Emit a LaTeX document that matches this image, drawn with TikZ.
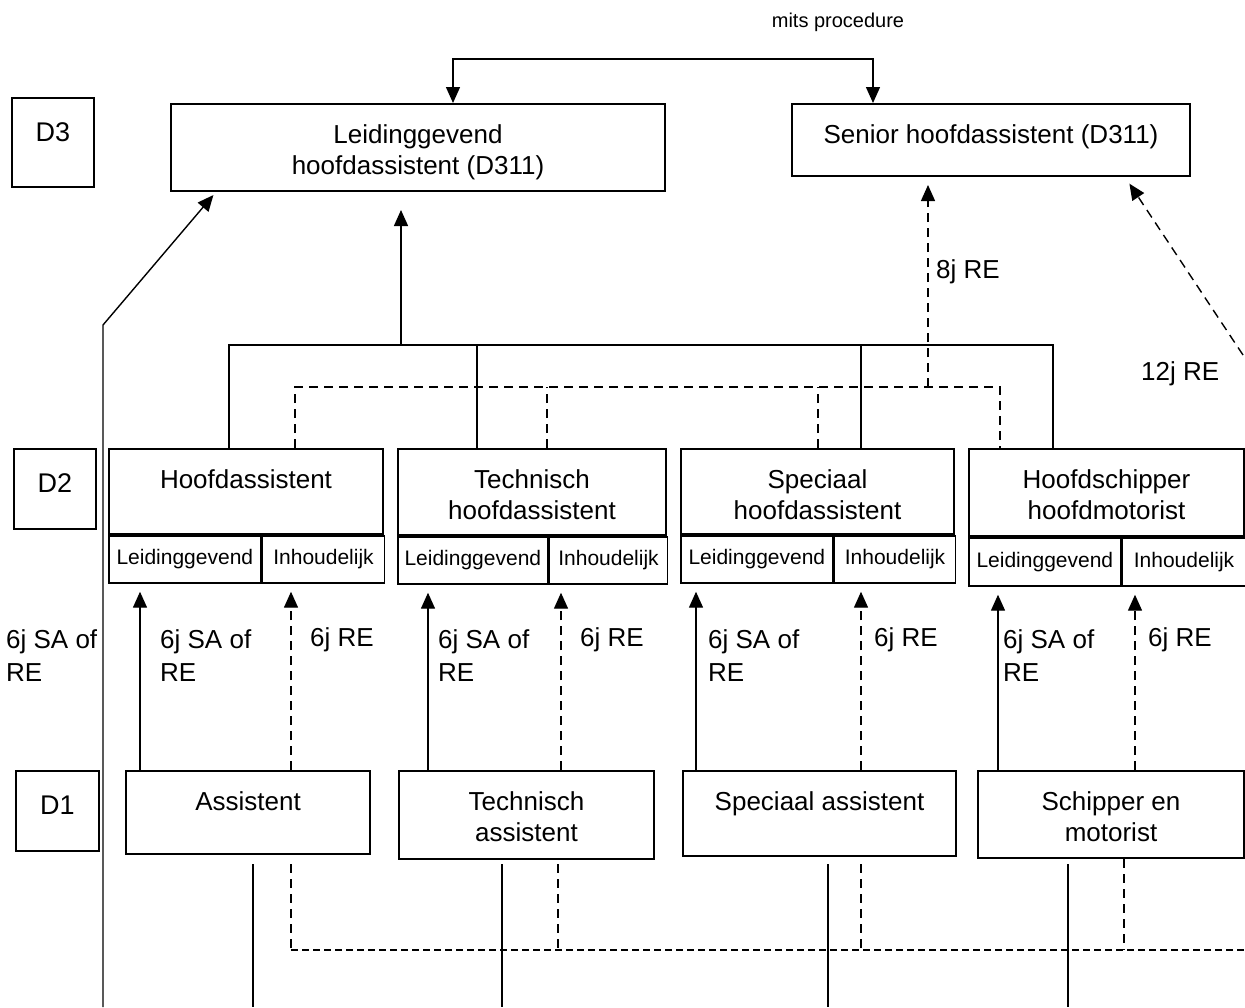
\documentclass[tikz,border=0pt]{standalone}
\usepackage{fontspec}
\setmainfont{Liberation Sans}
\usetikzlibrary{arrows.meta,calc}

% rank box: name, left, top, width, height, text (first baseline 39pt below the top)
\newcommand\rankbox[6]{%
  \node[frame] (#1) at (#2,#3) {\parbox[c][#5pt][t]{#4pt}{\centering\rule{0pt}{39pt}#6}};}
% level box: name, left, top, width, height, label
\newcommand\levelbox[6]{%
  \node[lvl] (#1) at (#2,#3) {\parbox[c][#5pt][t]{#4pt}{\centering\rule{0pt}{43pt}#6}};}

\begin{document}
\begin{tikzpicture}[x=1pt,y=-1pt,
  every node/.style={inner sep=0pt},
  frame/.style={draw, line width=2pt, anchor=north west, font=\fontsize{26}{31}\selectfont},
  cell/.style={draw, line width=1.7pt, anchor=north west, font=\fontsize{21}{25}\selectfont},
  lvl/.style={draw, line width=2pt, anchor=north west, font=\fontsize{27}{32}\selectfont},
  note/.style={font=\fontsize{26}{33}\selectfont, align=left, anchor=west},
  wire/.style={line width=1.4pt},
  dashwire/.style={wire, dash pattern=on 9pt off 6pt},
  dashfine/.style={wire, dash pattern=on 7pt off 4pt},
  tip/.style={-{Triangle[length=16pt,width=14pt]}},
  tips/.style={{Triangle[length=16pt,width=14pt]}-{Triangle[length=16pt,width=14pt]}},
]
\fill[white] (0,0) rectangle (1245,1007);
\useasboundingbox (0,0) rectangle (1245,1007);

% level labels
\levelbox{d3}{11}{97}{82}{89}{D3}
\levelbox{d2}{13}{448}{82}{80}{D2}
\levelbox{d1}{15}{770}{83}{80}{D1}

% D3
\rankbox{lhd}{170}{103}{494}{87}{Leidinggevend\\hoofdassistent (D311)}
\rankbox{shd}{791}{103}{398}{72}{Senior hoofdassistent (D311)}

% D2
\rankbox{ha}{108}{448}{274}{85}{Hoofdassistent}
\rankbox{tha}{397}{448}{268}{86}{Technisch\\hoofdassistent}
\rankbox{sha}{680}{448}{273}{85}{Speciaal\\hoofdassistent}
\rankbox{hsm}{968}{448}{275}{87}{Hoofdschipper\\hoofdmotorist}

\node[cell, minimum width=152pt, minimum height=47pt] (haL) at (ha.south west) {Leidinggevend};
\node[cell, minimum width=122pt, minimum height=47pt] (haI) at (haL.north east) {Inhoudelijk};
\node[cell, minimum width=150pt, minimum height=47pt] (thaL) at (tha.south west) {Leidinggevend};
\node[cell, minimum width=118pt, minimum height=47pt] (thaI) at (thaL.north east) {Inhoudelijk};
\node[cell, minimum width=152pt, minimum height=47pt] (shaL) at (sha.south west) {Leidinggevend};
\node[cell, minimum width=121pt, minimum height=47pt] (shaI) at (shaL.north east) {Inhoudelijk};
\node[cell, minimum width=152pt, minimum height=48pt] (hsmL) at (hsm.south west) {Leidinggevend};
\node[cell, minimum width=123pt, minimum height=48pt] (hsmI) at (hsmL.north east) {Inhoudelijk};

% D1
\rankbox{as}{125}{770}{244}{83}{Assistent}
\rankbox{tas}{398}{770}{255}{88}{Technisch\\assistent}
\rankbox{sas}{682}{770}{273}{85}{Speciaal assistent}
\rankbox{sm}{977}{770}{266}{87}{Schipper en\\motorist}

% helper coordinates (x positions of the vertical connectors)
\foreach \n/\x/\y in {mL/453/59, mR/873/59,
    s1/229/345, s2/401/345, s3/477/345, s4/861/345, s5/1053/345,
    q1/295/387, q2/547/387, q3/818/387, q4/928/387, q5/1000/387,
    a1/140/0, a2/291/0, a3/428/0, a4/561/0, a5/696/0, a6/861/0, a7/998/0, a8/1135/0,
    b1/253/1007, b2/502/1007, b3/828/1007, b4/1068/1007,
    e1/291/950, e2/558/950, e3/861/950, e4/1124/950, eR/1245/950,
    lfoot/103/1007, lbend/103/325, r12/1243/355}
  \coordinate (\n) at (\x,\y);

% D3 exchange
\node[font=\fontsize{20}{24}\selectfont] (mits) at (838,22) {mits procedure};
\draw[wire, tips] (lhd.north -| mL) -- (mL) -- (mR) -- (shd.north -| mR);

% long route from below into Leidinggevend hoofdassistent
\draw[wire, tip, shorten >=4pt] (lfoot) -- (lbend) -- ($(lhd.south west)+(46,0)$);

% D2 -> Leidinggevend hoofdassistent
\draw[wire] (ha.north -| s1) -- (s1) -- (s5) -- (hsm.north -| s5);
\draw[wire] (tha.north -| s3) -- (s3);
\draw[wire] (sha.north -| s4) -- (s4);
\draw[wire, tip, shorten >=18pt] (s2) -- (lhd.south -| s2);

% D2 -> Senior hoofdassistent
\draw[dashwire] (ha.north -| q1) -- (q1) -- (q5) -- (hsm.north -| q5);
\draw[dashwire] (tha.north -| q2) -- (q2);
\draw[dashwire] (sha.north -| q3) -- (q3);
\draw[dashwire, tip, shorten >=8pt] (q4) -- (shd.south -| q4);
\node[note] (l8) at (936,272) {8j RE};

\draw[dashwire, tip, shorten >=8pt] (r12) -- ($(shd.south west)+(334,0)$);
\node[note] (l12) at (1141,374) {12j RE};

% D1 -> D2
\draw[wire, tip, shorten >=8pt] (as.north -| a1) -- (haL.south -| a1);
\draw[dashwire, tip, shorten >=8pt] (as.north -| a2) -- (haI.south -| a2);
\draw[wire, tip, shorten >=8pt] (tas.north -| a3) -- (thaL.south -| a3);
\draw[dashwire, tip, shorten >=8pt] (tas.north -| a4) -- (thaI.south -| a4);
\draw[wire, tip, shorten >=8pt] (sas.north -| a5) -- (shaL.south -| a5);
\draw[dashwire, tip, shorten >=8pt] (sas.north -| a6) -- (shaI.south -| a6);
\draw[wire, tip, shorten >=8pt] (sm.north -| a7) -- (hsmL.south -| a7);
\draw[dashwire, tip, shorten >=8pt] (sm.north -| a8) -- (hsmI.south -| a8);

\node[note] (n0) at (6,656) {6j SA of\\RE};
\node[note] (n1) at (160,656) {6j SA of\\RE};
\node[note] (n2) at (310,640) {6j RE};
\node[note] (n3) at (438,656) {6j SA of\\RE};
\node[note] (n4) at (580,640) {6j RE};
\node[note] (n5) at (708,656) {6j SA of\\RE};
\node[note] (n6) at (874,640) {6j RE};
\node[note] (n7) at (1003,656) {6j SA of\\RE};
\node[note] (n8) at (1148,640) {6j RE};

% lines leaving D1 downwards
\draw[wire, shorten <=9pt] (as.south -| b1) -- (b1);
\draw[wire, shorten <=4pt] (tas.south -| b2) -- (b2);
\draw[wire, shorten <=7pt] (sas.south -| b3) -- (b3);
\draw[wire, shorten <=5pt] (sm.south -| b4) -- (b4);

\draw[dashwire, shorten <=9pt] (as.south -| e1) -- (e1);
\draw[dashfine] (e1) -- (eR);
\draw[dashwire, shorten <=4pt] (tas.south -| e2) -- (e2);
\draw[dashwire, shorten <=7pt] (sas.south -| e3) -- (e3);
\draw[dashwire] (sm.south -| e4) -- (e4);
\end{tikzpicture}
\end{document}
